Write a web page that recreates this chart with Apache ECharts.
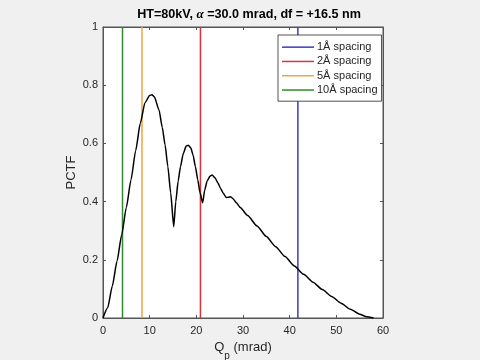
<!DOCTYPE html>
<html><head><meta charset="utf-8">
<script src="https://cdn.jsdelivr.net/npm/echarts@6/dist/echarts.min.js"></script>
<style>html,body{margin:0;padding:0;background:#f0f0f0;}#c{width:480px;height:360px;}</style>
</head><body><div id="c"></div>
<script>
var qp = [0, 1, 2, 3, 4, 5, 6, 7, 8, 9, 10, 10.5, 11, 12, 12.7, 13.3, 13.9, 14.5, 15.15, 15.6, 16.1, 16.6, 17.2, 17.8, 18.3, 18.8, 19.3, 19.8, 20.3, 20.8, 21.35, 21.8, 22.3, 22.9, 23.4, 24.0, 24.6, 25.2, 25.8, 26.4, 26.9, 27.3, 27.8, 28.6, 29.4, 31, 33, 35, 37, 39, 41, 43, 45, 47, 49, 51, 53, 55, 56.5, 58];
var pctf = [0, 0.035, 0.11, 0.195, 0.285, 0.38, 0.475, 0.575, 0.67, 0.74, 0.765, 0.767, 0.76, 0.715, 0.655, 0.595, 0.52, 0.43, 0.314, 0.40, 0.47, 0.52, 0.565, 0.59, 0.594, 0.585, 0.56, 0.52, 0.475, 0.43, 0.396, 0.44, 0.47, 0.487, 0.491, 0.482, 0.465, 0.445, 0.428, 0.414, 0.415, 0.417, 0.411, 0.396, 0.380, 0.352, 0.316, 0.280, 0.245, 0.211, 0.179, 0.150, 0.123, 0.098, 0.074, 0.051, 0.030, 0.013, 0.004, 0];
var spacingNames = ['1Å spacing', '2Å spacing', '5Å spacing', '10Å spacing'];
var spacingQ = [41.76, 20.88, 8.35, 4.18];
var spacingColors = ['#3a3ac4', '#d8343c', '#f2a444', '#2e8b2e'];
var xTicks = [0, 10, 20, 30, 40, 50, 60];
var yTicks = [0, 0.2, 0.4, 0.6, 0.8, 1];

var font = 'Liberation Sans, Arial, Helvetica, sans-serif';
var axisCol = '#555555';
var grid = {left: 103, top: 27, width: 280, height: 291, show: true, backgroundColor: '#ffffff',
  borderColor: axisCol, borderWidth: 1, containLabel: false, outerBoundsMode: 'none'};

function xAx(pos, labels) {
  return {type: 'value', position: pos, min: xTicks[0], max: xTicks[xTicks.length-1], interval: 10,
    axisLine: {show: true, onZero: false, lineStyle: {color: axisCol}},
    axisTick: {show: true, inside: true, length: 3, lineStyle: {color: axisCol}},
    axisLabel: {show: labels, color: '#262626', fontSize: 11, fontFamily: font, margin: 7},
    splitLine: {show: false},
    name: labels ? '{q|Q}{s|p}{n| (mrad)}' : '', nameLocation: 'middle', nameGap: 18,
    nameTextStyle: {rich: {
      q: {fontSize: 13, fontFamily: font, color: '#262626', verticalAlign: 'top', lineHeight: 16},
      s: {fontSize: 10, fontFamily: font, color: '#262626', verticalAlign: 'top', lineHeight: 16, padding: [10, 0, 0, 0]},
      n: {fontSize: 13, fontFamily: font, color: '#262626', verticalAlign: 'top', lineHeight: 16}
    }}
  };
}
function yAx(pos, labels) {
  return {type: 'value', position: pos, min: yTicks[0], max: yTicks[yTicks.length-1], interval: 0.2,
    axisLine: {show: true, onZero: false, lineStyle: {color: axisCol}},
    axisTick: {show: true, inside: true, length: 3, lineStyle: {color: axisCol}},
    axisLabel: {show: labels, color: '#262626', fontSize: 11, fontFamily: font, margin: 5,
      formatter: function (v) { return String(Math.round(v * 10) / 10); }},
    splitLine: {show: false},
    name: labels ? 'PCTF' : '', nameLocation: 'middle', nameGap: 25, nameRotate: 90,
    nameMoveOverlap: false,
    nameTextStyle: {fontSize: 13, fontFamily: font, color: '#262626'}
  };
}

var series = [{
  type: 'line', name: 'pctf', xAxisIndex: 0, yAxisIndex: 0,
  data: qp.map(function (q, i) { return [q, pctf[i]]; }),
  showSymbol: false, symbol: 'none', smooth: 0.2, smoothMonotone: 'x',
  lineStyle: {color: '#000000', width: 1.5}, z: 5
}];
spacingNames.forEach(function (n, i) {
  series.push({type: 'line', name: n, xAxisIndex: 0, yAxisIndex: 0,
    data: [[spacingQ[i], 0], [spacingQ[i], 1]], symbol: 'none', showSymbol: false,
    lineStyle: {color: spacingColors[i], width: 1.5}, itemStyle: {color: spacingColors[i]}, z: 3});
});

var chart = echarts.init(document.getElementById('c'), null, {renderer: 'canvas'});
chart.setOption({
  backgroundColor: '#f0f0f0',
  animation: false,
  title: {
    text: '{b|HT=80kV, }{a|α}{b| =30.0 mrad, df = +16.5 nm}',
    left: 244, top: 3, textAlign: 'center',
    textStyle: {rich: {
      b: {fontSize: 12.6, fontWeight: 'bold', fontFamily: font, color: '#000'},
      a: {fontSize: 13, fontStyle: 'italic', fontFamily: 'Liberation Serif, serif', color: '#000'}
    }}
  },
  grid: grid,
  xAxis: [xAx('bottom', true), xAx('top', false)],
  yAxis: [yAx('left', true), yAx('right', false)],
  legend: {
    data: spacingNames.map(function (n) { return {name: n, icon: 'rect'}; }),
    orient: 'vertical', left: 278, top: 35,
    backgroundColor: '#ffffff', borderColor: '#262626', borderWidth: 0.8, borderRadius: 0,
    padding: [5, 4, 4, 4], itemWidth: 32, itemHeight: 1.5, itemGap: 0,
    textStyle: {fontSize: 11, fontFamily: font, color: '#262626', lineHeight: 14.3, padding: [0, 0, 0, -2]}
  },
  series: series
});
</script></body></html>
